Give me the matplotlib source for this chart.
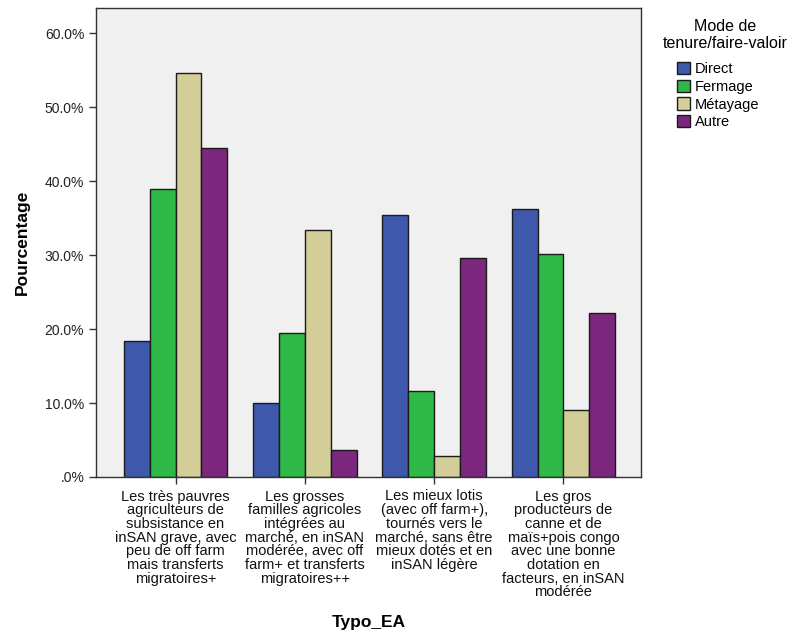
import matplotlib
matplotlib.use("Agg")
import matplotlib.pyplot as plt
import numpy as np
from matplotlib.patches import Patch

plt.rcParams['font.family'] = ['Liberation Sans', 'DejaVu Sans']

categories = [
    "Les très pauvres\nagriculteurs de\nsubsistance en\ninSAN grave, avec\npeu de off farm\nmais transferts\nmigratoires+",
    "Les grosses\nfamilles agricoles\nintégrées au\nmarché, en inSAN\nmodérée, avec off\nfarm+ et transferts\nmigratoires++",
    "Les mieux lotis\n(avec off farm+),\ntournés vers le\nmarché, sans être\nmieux dotés et en\ninSAN légère",
    "Les gros\nproducteurs de\ncanne et de\nmaïs+pois congo\navec une bonne\ndotation en\nfacteurs, en inSAN\nmodérée",
]
series_names = ["Direct", "Fermage", "Métayage", "Autre"]
direct = [18.4, 10.0, 35.4, 36.2]
fermage = [38.9, 19.4, 11.6, 30.1]
metayage = [54.6, 33.4, 2.9, 9.0]
autre = [44.5, 3.7, 29.6, 22.2]
yticks = [0, 10, 20, 30, 40, 50, 60]
ytick_labels = [".0%", "10.0%", "20.0%", "30.0%", "40.0%", "50.0%", "60.0%"]
colors = ["#3E58AC", "#2EB848", "#D3CE97", "#7B277D"]

fig = plt.figure(figsize=(7.89, 6.36), dpi=100)
ax = fig.add_axes([96/789, 1-477/636, (641-96)/789, (477-8)/636])
ax.set_facecolor("#F0F0F0")

x = np.arange(len(categories))
w = 0.2
for i, vals in enumerate([direct, fermage, metayage, autre]):
    ax.bar(x + (i - 1.5) * w, vals, width=w, color=colors[i],
           edgecolor="#1a1a1a", linewidth=1.0, label=series_names[i], zorder=2)

ax.set_xlim(-0.615, 3.6)
ax.set_ylim(0, 63.4)
ax.set_yticks(yticks)
ax.set_yticklabels(ytick_labels, fontsize=10, color="#222222")
ax.set_xticks(x)
ax.set_xticklabels(categories, fontsize=10.5, linespacing=0.97, color="#111111")
ax.tick_params(axis='both', length=5, width=1, color="#333333")
ax.tick_params(axis='x', pad=4)
for s in ax.spines.values():
    s.set_color("#333333")
    s.set_linewidth(1)

ax.set_ylabel("Pourcentage", fontsize=12.5, fontweight="bold", labelpad=11)
fig.text(369/789, 1-622/636, "Typo_EA", fontsize=12.5, fontweight="bold",
         ha="center", va="center")

fig.text(725/789, 1-35/636, "Mode de\ntenure/faire-valoir", fontsize=11.5,
         ha="center", va="center", linespacing=1.15)
handles = [Patch(facecolor=c, edgecolor="#1a1a1a", linewidth=1.0) for c in colors]
fig.legend(handles, series_names, loc="upper left",
           bbox_to_anchor=(677/789, 1-62/636), frameon=False, fontsize=10.5,
           handlelength=0.9, handleheight=0.9, handletextpad=0.3,
           labelspacing=0.25, borderaxespad=0, borderpad=0)

fig.savefig("out.png", dpi=100)
